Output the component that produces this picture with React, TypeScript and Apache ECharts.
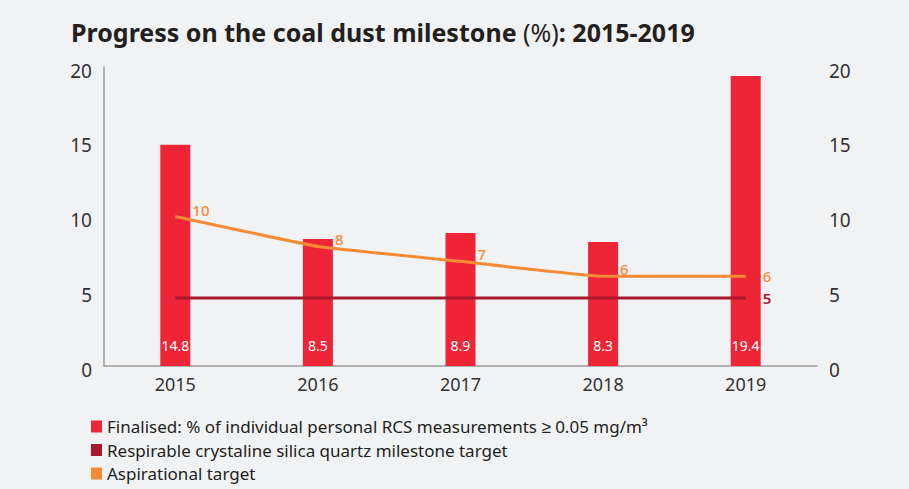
import React, { useEffect, useRef } from "react";
import * as echarts from "echarts";

const years = ["2015", "2016", "2017", "2018", "2019"];
const finalisedValues = [14.8, 8.5, 8.9, 8.3, 19.4];
const milestoneValues = [4.55, 4.55, 4.55, 4.55, 4.55];
const aspirationalValues = [10, 8, 7, 6, 6];
const axisTicks = [0, 5, 10, 15, 20];

const seriesNames = [
  "Finalised: % of individual personal RCS measurements ≥ 0.05 mg/m³",
  "Respirable crystaline silica quartz milestone target",
  "Aspirational target",
];

const RED = "#EE2536";
const DARK_RED = "#A8182E";
const ORANGE = "#F68B37";
const FONT = "'Noto Sans', sans-serif";

export default function App() {
  const ref = useRef<HTMLDivElement>(null);
  useEffect(() => {
    if (!ref.current) return;
    const chart = echarts.init(ref.current, null, { renderer: "svg" });
    const last = years.length - 1;
    const yAxisCommon = {
      type: "value",
      min: axisTicks[0],
      max: axisTicks[axisTicks.length - 1],
      interval: 5,
      splitLine: { show: false },
      axisTick: { show: false },
      axisLabel: {
        margin: 12,
        formatter: (v: number) => `{t|${v}}`,
        rich: {
          t: {
            fontSize: 19,
            color: "#333",
            fontFamily: FONT,
            padding: [7, 0, 0, 0],
          },
        },
      },
    };
    chart.setOption({
      animation: false,
      backgroundColor: "#F1F2F4",
      textStyle: { fontFamily: FONT },
      title: {
        text: "{b|Progress on the coal dust milestone }{n|(%)}{b|: 2015-2019}",
        left: 66,
        top: 14,
        textStyle: {
          rich: {
            b: { fontSize: 25, fontWeight: "bold", color: "#231F20", fontFamily: FONT },
            n: { fontSize: 25, fontWeight: "normal", color: "#231F20", fontFamily: FONT },
          },
        },
      },
      legend: {
        orient: "vertical",
        left: 86,
        top: 413,
        itemWidth: 11,
        itemHeight: 12,
        itemGap: 6.5,
        icon: "rect",
        textStyle: { fontSize: 17, color: "#231F20", fontFamily: FONT },
        data: seriesNames,
      },
      grid: { left: 104, right: 92, top: 67, bottom: 123 },
      xAxis: {
        type: "category",
        data: years,
        axisTick: { show: false },
        axisLine: { lineStyle: { color: "#9A9A9A", width: 1.5 } },
        axisLabel: { fontSize: 18, color: "#333", fontFamily: FONT, margin: 9 },
      },
      yAxis: [
        {
          ...yAxisCommon,
          position: "left",
          axisLine: { show: true, lineStyle: { color: "#9A9A9A", width: 1.5 } },
        },
        {
          ...yAxisCommon,
          position: "right",
          axisLine: { show: false },
        },
      ],
      series: [
        {
          name: seriesNames[0],
          type: "bar",
          data: finalisedValues,
          barWidth: 30,
          itemStyle: { color: RED },
          label: {
            show: true,
            position: "insideBottom",
            distance: 14,
            color: "#fff",
            fontSize: 14,
            fontFamily: FONT,
          },
        },
        {
          name: seriesNames[1],
          type: "line",
          data: milestoneValues.map((v, i) => ({
            value: v,
            label: { show: i === last },
          })),
          symbol: "circle",
          symbolSize: 0,
          showSymbol: true,
          lineStyle: { color: DARK_RED, width: 3 },
          itemStyle: { color: DARK_RED },
          label: {
            position: "right",
            distance: 17,
            color: DARK_RED,
            fontSize: 15,
            fontWeight: 600,
            fontFamily: FONT,
            formatter: (p: any) => String(Math.round(p.value)),
          },
        },
        {
          name: seriesNames[2],
          type: "line",
          data: aspirationalValues.map((v, i) => ({
            value: v,
            label:
              i === last
                ? { show: true, position: "right", offset: [0, 0], distance: 17 }
                : { show: true, position: "right", offset: [3, -7], distance: 14 },
          })),
          smooth: 0.1,
          symbol: "circle",
          symbolSize: 0,
          showSymbol: true,
          lineStyle: { color: ORANGE, width: 3 },
          itemStyle: { color: ORANGE },
          label: {
            color: ORANGE,
            fontSize: 15,
            fontWeight: 500,
            fontFamily: FONT,
          },
        },
      ],
    });
    return () => chart.dispose();
  }, []);
  return (
    <div
      ref={ref}
      style={{ position: "fixed", left: 0, top: 0, width: 909, height: 489 }}
    />
  );
}
